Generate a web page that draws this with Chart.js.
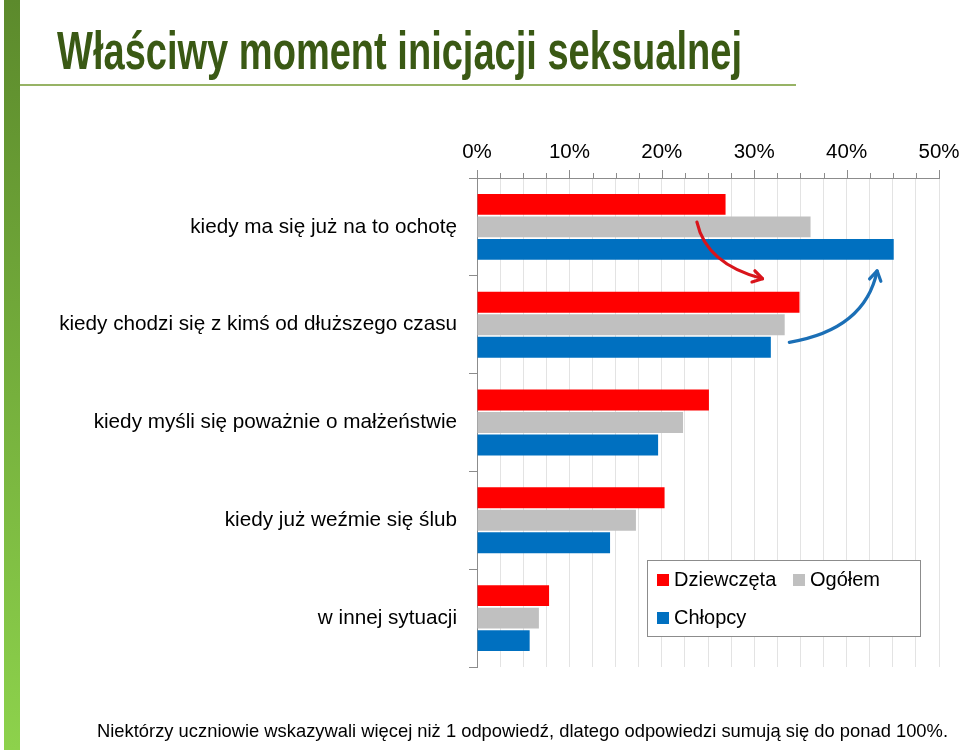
<!DOCTYPE html>
<html lang="pl">
<head>
<meta charset="utf-8">
<title>Właściwy moment inicjacji seksualnej</title>
<script src="https://cdn.jsdelivr.net/npm/chart.js@4/dist/chart.umd.min.js"></script>
<style>
  html, body { margin: 0; padding: 0; background: #fff; }
  body { width: 959px; height: 752px; position: relative; overflow: hidden; font-family: "Liberation Sans", Arial, sans-serif; }
  #pasek { position: absolute; left: 4px; top: 0; width: 16px; height: 750px; background: linear-gradient(#5c8a2c, #8dd24c); }
  #napisy { position: absolute; left: 0; top: 0; }
  #linia { position: absolute; left: 20px; top: 84px; width: 776px; height: 2px; background: #97b365; }
  #wykres { position: absolute; left: 0; top: 0; }
  #legenda { position: absolute; left: 647px; top: 560px; width: 272px; height: 75px; border: 1px solid #8c8c8c; background: #fff; font-size: 20px; }
  .poz { position: absolute; white-space: nowrap; }
  .poz span { display: inline-block; width: 12px; height: 12px; margin-right: 5px; vertical-align: 0; }
</style>
</head>
<body>
<div id="pasek"></div>
<div id="linia"></div>
<canvas id="wykres" width="959" height="752"></canvas>
<svg id="napisy" width="959" height="752" style="pointer-events:none">
  <text x="57" y="69" textLength="685" lengthAdjust="spacingAndGlyphs"
        font-family="Liberation Sans, Arial, sans-serif" font-weight="bold" font-size="53" fill="#3a5914">Właściwy moment inicjacji seksualnej</text>
  <text x="97" y="737" textLength="851" lengthAdjust="spacingAndGlyphs"
        font-family="Liberation Sans, Arial, sans-serif" font-size="19" fill="#000">Niektórzy uczniowie wskazywali więcej niż 1 odpowiedź, dlatego odpowiedzi sumują się do ponad 100%.</text>
</svg>
<div id="legenda"></div>
<script>
// ===================== DANE =====================
const kategorie = [
  'kiedy ma się już na to ochotę',
  'kiedy chodzi się z kimś od dłuższego czasu',
  'kiedy myśli się poważnie o małżeństwie',
  'kiedy już weźmie się ślub',
  'w innej sytuacji'
];
const dziewczeta = [26.9, 34.9, 25.1, 20.3, 7.8];
const ogolem     = [36.1, 33.3, 22.3, 17.2, 6.7];
const chlopcy    = [45.1, 31.8, 19.6, 14.4, 5.7];
const skalaMax = 50;

const kolory = { dziewczeta: '#ff0000', ogolem: '#c0c0c0', chlopcy: '#0070c0' };

// strzałki: [od wartości %, od pozycji kategorii] -> [do wartości %, do pozycji kategorii]
const strzalki = [
  { kolor: '#d9141b', od: [23.8, -0.05], ster: [24.8, 0.38], do: [30.9, 0.53] },
  { kolor: '#1b6fb6', od: [33.8, 1.18],  ster: [42.0, 1.05], do: [43.3, 0.45] }
];

// ===================== PLUGINY =====================
const znacznikiOsi = {
  id: 'znacznikiOsi',
  afterDraw(chart){
    const x = chart.scales.x;
    const c = chart.ctx;
    c.save();
    c.strokeStyle = '#8c8c8c';
    c.lineWidth = 1;
    x.ticks.forEach(t => {
      const px = Math.round(x.getPixelForValue(t.value)) + 0.5;
      const dl = t.value % 10 === 0 ? 8 : 5;
      c.beginPath();
      c.moveTo(px, x.bottom);
      c.lineTo(px, x.bottom - dl);
      c.stroke();
    });
    c.restore();
  }
};

const rysujStrzalki = {
  id: 'rysujStrzalki',
  afterDatasetsDraw(chart){
    const x = chart.scales.x, y = chart.scales.y, c = chart.ctx;
    c.save();
    strzalki.forEach(s => {
      const p0 = [x.getPixelForValue(s.od[0]), y.getPixelForValue(s.od[1])];
      const p1 = [x.getPixelForValue(s.ster[0]), y.getPixelForValue(s.ster[1])];
      const p2 = [x.getPixelForValue(s.do[0]), y.getPixelForValue(s.do[1])];
      c.strokeStyle = s.kolor;
      c.lineWidth = 3.2;
      c.lineCap = 'round';
      c.lineJoin = 'round';
      c.beginPath();
      c.moveTo(p0[0], p0[1]);
      c.quadraticCurveTo(p1[0], p1[1], p2[0], p2[1]);
      c.stroke();
      // grot
      const kat = Math.atan2(p2[1] - p1[1], p2[0] - p1[0]);
      const dl = 11;
      c.beginPath();
      c.moveTo(p2[0] - dl * Math.cos(kat - 0.55), p2[1] - dl * Math.sin(kat - 0.55));
      c.lineTo(p2[0], p2[1]);
      c.lineTo(p2[0] - dl * Math.cos(kat + 0.55), p2[1] - dl * Math.sin(kat + 0.55));
      c.stroke();
    });
    c.restore();
  }
};

// ===================== WYKRES =====================
function zbudujLegende(chart){
  const el = document.getElementById('legenda');
  const pozycje = [[9, 7], [145, 7], [9, 45]];
  el.innerHTML = chart.data.datasets.map((d, i) =>
    `<div class="poz" style="left:${pozycje[i][0]}px;top:${pozycje[i][1]}px"><span style="background:${d.backgroundColor}"></span>${d.label}</div>`
  ).join('');
}

function inicjuj(){
  const czcionka = '"Liberation Sans", Arial, sans-serif';
  const wykres = new Chart(document.getElementById('wykres'), {
    type: 'bar',
    data: {
      labels: kategorie,
      datasets: [
        { label: 'Dziewczęta', data: dziewczeta, backgroundColor: kolory.dziewczeta },
        { label: 'Ogółem', data: ogolem, backgroundColor: kolory.ogolem },
        { label: 'Chłopcy', data: chlopcy, backgroundColor: kolory.chlopcy }
      ]
    },
    options: {
      indexAxis: 'y',
      responsive: false,
      animation: false,
      categoryPercentage: 0.69,
      barPercentage: 0.93,
      layout: { padding: { left: 0, right: 0, top: 0, bottom: 85 } },
      plugins: { legend: { display: false }, tooltip: { enabled: false } },
      scales: {
        x: {
          position: 'top',
          min: 0,
          max: skalaMax,
          ticks: {
            stepSize: 2.5,
            padding: 13,
            autoSkip: false,
            maxRotation: 0,
            minRotation: 0,
            color: '#000',
            font: { family: czcionka, size: 20.5 },
            callback: v => v % 10 === 0 ? v + '%' : ''
          },
          grid: { color: '#e3e3e3', drawTicks: false },
          border: { color: '#8c8c8c' },
          afterFit: s => { s.height = 178; s.paddingRight = 20; s.paddingLeft = 0; }
        },
        y: {
          ticks: {
            padding: 12,
            color: '#000',
            font: { family: czcionka, size: 20.7 }
          },
          grid: { offset: true, drawOnChartArea: false, tickLength: 8, color: '#8c8c8c' },
          border: { color: '#8c8c8c' },
          afterFit: s => { s.width = 477; }
        }
      }
    },
    plugins: [znacznikiOsi, rysujStrzalki]
  });
  zbudujLegende(wykres);
}

document.addEventListener('DOMContentLoaded', inicjuj);
</script>
</body>
</html>
